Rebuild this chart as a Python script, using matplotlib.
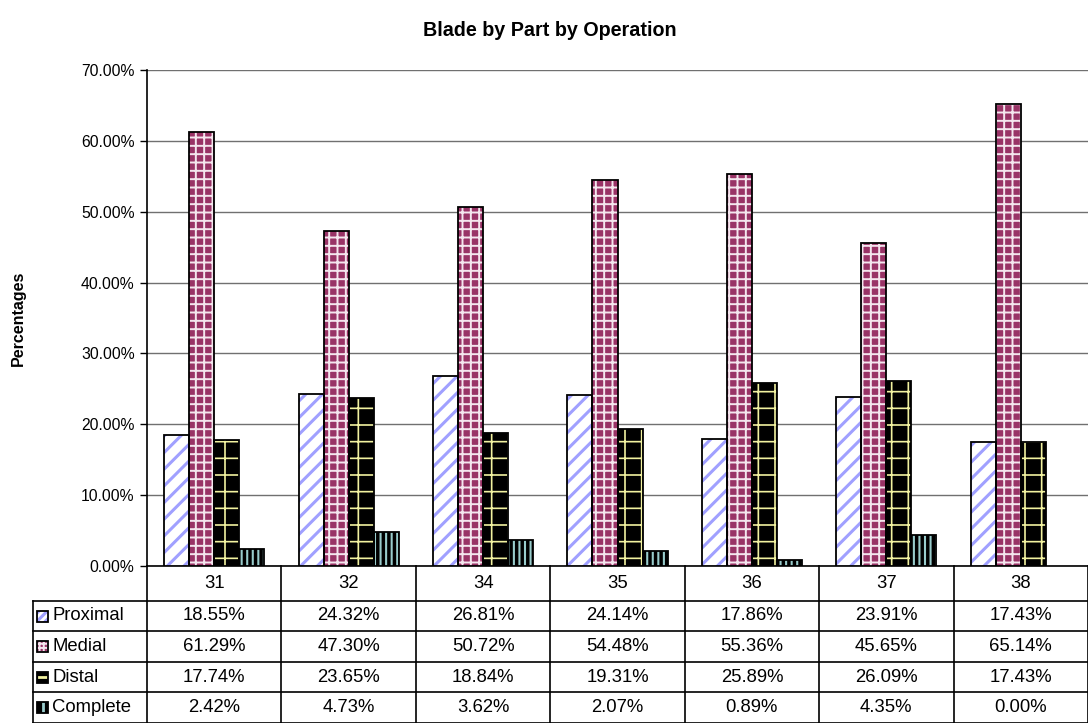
import matplotlib
matplotlib.use("Agg")
import matplotlib.pyplot as plt
from matplotlib.patches import Rectangle
from matplotlib.lines import Line2D
import matplotlib.transforms as mtransforms
import numpy as np

plt.rcParams['font.family'] = ['Liberation Sans', 'DejaVu Sans']

# ---- data -------------------------------------------------------------
operations = ["31", "32", "34", "35", "36", "37", "38"]
series_names = ["Proximal", "Medial", "Distal", "Complete"]
proximal = [18.55, 24.32, 26.81, 24.14, 17.86, 23.91, 17.43]
medial = [61.29, 47.30, 50.72, 54.48, 55.36, 45.65, 65.14]
distal = [17.74, 23.65, 18.84, 19.31, 25.89, 26.09, 17.43]
complete = [2.42, 4.73, 3.62, 2.07, 0.89, 4.35, 0.00]
y_ticks = [0, 10, 20, 30, 40, 50, 60, 70]

series_values = [proximal, medial, distal, complete]

# ---- styles per series: face, hatch, hatch colour, hatch width --------
styles = [
    dict(face="white", hatch="//", hcol="#A0A0FF", hlw=2.2, key_hatch="////"),
    dict(face="#993366", hatch="++", hcol="#F4E6EE", hlw=1.4, key_hatch="++++"),
    dict(face="black", hatch="+", hcol="#F2F2A0", hlw=1.2, key_hatch=None),
    dict(face="black", hatch="|||", hcol="#99CCCC", hlw=1.5, key_hatch=None),
]

W, H = 1088, 723
fig = plt.figure(figsize=(W / 100, H / 100), dpi=100)

ax_left, ax_right, ax_top, ax_bottom = 147, 1088, 70, 566
ax = fig.add_axes([ax_left / W, 1 - ax_bottom / H,
                   (ax_right - ax_left) / W, (ax_bottom - ax_top) / H])


def hatched_rect(target, xy, w, h, st, hatch, transform=None, clip=True, z=3):
    kw = {} if transform is None else dict(transform=transform)
    fill = Rectangle(xy, w, h, facecolor=st["face"], edgecolor=st["hcol"],
                     hatch=hatch, linewidth=0, zorder=z, clip_on=clip, **kw)
    if hasattr(fill, "set_hatch_linewidth"):
        fill.set_hatch_linewidth(st["hlw"])
    target.add_patch(fill)
    outline = Rectangle(xy, w, h, facecolor="none", edgecolor="black",
                        linewidth=1.3, zorder=z + 0.2, clip_on=clip, **kw)
    target.add_patch(outline)


x = np.arange(len(operations))
bar_w = 0.186
for i, (vals, st) in enumerate(zip(series_values, styles)):
    offset = (i - 1.5) * bar_w
    for xi, v in zip(x, vals):
        if v <= 0:
            continue
        hatched_rect(ax, (xi + offset - bar_w / 2, 0), bar_w, v, st, st["hatch"])

ax.set_xlim(-0.5, len(operations) - 0.5)
ax.set_ylim(0, 70)
ax.set_yticks(y_ticks)
ax.set_yticklabels([f"{t:.2f}%" for t in y_ticks], fontsize=11.3)
ax.set_xticks([])
ax.yaxis.grid(True, color="#707070", linewidth=1)
ax.set_axisbelow(True)
ax.tick_params(axis="y", direction="out", length=5, width=1, pad=4)
for s in ["top", "right"]:
    ax.spines[s].set_visible(False)
ax.spines["left"].set_linewidth(1.2)
ax.spines["bottom"].set_linewidth(1.2)

fig.text(18 / W, 1 - 318 / H, "Percentages", rotation=90, ha="center",
         va="center", fontsize=11.5, fontweight="bold")

fig.text(0.505, 1 - 31 / H, "Blade by Part by Operation", ha="center",
         va="center", fontsize=14.2, fontweight="bold")

# ---- data table below the plot ----------------------------------------
ax_h = ax_bottom - ax_top
ax_w = ax_right - ax_left


def ay(py):
    return (ax_bottom - py) / ax_h


def axx(px):
    return (px - ax_left) / ax_w


row_edges = [566, 601, 631, 662, 692, 723]
blend = mtransforms.blended_transform_factory(ax.transData, ax.transAxes)

line_kw = dict(color="black", linewidth=1.2, clip_on=False, zorder=5)
# column separators
for k in range(len(operations) + 1):
    ax.add_line(Line2D([k - 0.5, k - 0.5], [ay(row_edges[0]), ay(row_edges[-1])],
                       transform=blend, **line_kw))
# legend column left edge
ax.add_line(Line2D([axx(33), axx(33)], [ay(row_edges[1]), ay(row_edges[-1])],
                   transform=ax.transAxes, **line_kw))
# row separators
for py in row_edges[1:]:
    ax.add_line(Line2D([axx(33), 1.0], [ay(py), ay(py)],
                       transform=ax.transAxes, **line_kw))

cell_fs = 13.3
# header row with operation numbers
for xi, name in zip(x, operations):
    ax.text(xi, ay((row_edges[0] + row_edges[1]) / 2), name, transform=blend,
            ha="center", va="center", fontsize=cell_fs, clip_on=False)

# value rows with legend keys
msz = 11
for r, (name, vals, st) in enumerate(zip(series_names, series_values, styles)):
    ymid = (row_edges[r + 1] + row_edges[r + 2]) / 2
    yc = ay(ymid)
    for xi, v in zip(x, vals):
        ax.text(xi, yc, f"{v:.2f}%", transform=blend, ha="center",
                va="center", fontsize=cell_fs, clip_on=False)
    ax.text(axx(52), yc, name, transform=ax.transAxes, ha="left",
            va="center", fontsize=cell_fs, clip_on=False)
    kx0, ky0 = axx(37), ay(ymid + msz / 2)
    kw_, kh_ = msz / ax_w, msz / ax_h
    hatched_rect(ax, (kx0, ky0), kw_, kh_, st, st["key_hatch"],
                 transform=ax.transAxes, clip=False, z=6)
    if name == "Distal":
        ax.add_line(Line2D([kx0 + 0.15 * kw_, kx0 + 0.85 * kw_], [yc, yc],
                           transform=ax.transAxes, color=st["hcol"],
                           linewidth=2, clip_on=False, zorder=6.1))
    elif name == "Complete":
        ax.add_line(Line2D([kx0 + kw_ / 2, kx0 + kw_ / 2],
                           [ky0 + 0.12 * kh_, ky0 + 0.88 * kh_],
                           transform=ax.transAxes, color=st["hcol"],
                           linewidth=2, clip_on=False, zorder=6.1))

fig.savefig("out.png", dpi=100)
